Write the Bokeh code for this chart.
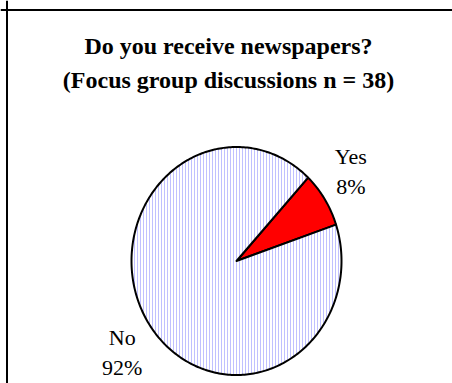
import math
from bokeh.plotting import figure
from bokeh.models import Range1d, Span
from bokeh.core.properties import value
from bokeh.embed import file_html
from bokeh.resources import INLINE

# ---- data ----
categories = ["Yes", "No"]
counts = [3, 35]
pct_labels = ["8%", "92%"]
title_lines = ["Do you receive newspapers?", "(Focus group discussions n = 38)"]
slice_colors = ["#ff0000", "#ffffff"]
slice_hatch = [None, "vertical_line"]

# ---- layout (pixels) ----
W, H = 452, 383
CX, CY = 236, 260.5          # pie centre in canvas px (from top-left)
SX, SY = 105.0, 114.0        # px per unit radius (x, y) -> slightly tall ellipse
START_DEG = 18.6

x0, x1 = -CX / SX, (W - CX) / SX
y1, y0 = CY / SY, -(H - CY) / SY

def dx(px):
    return x0 + px / SX

def dy(py):
    return y1 - py / SY

p = figure(width=W, height=H, output_backend="svg", toolbar_location=None,
           x_range=Range1d(x0, x1), y_range=Range1d(y0, y1),
           min_border=0, outline_line_color=None,
           background_fill_color="white", border_fill_color="white")
p.axis.visible = False
p.grid.visible = False

total = float(sum(counts))
ang = math.radians(START_DEG)
label_data = []
for cat, cnt, pct, col, hp in zip(categories, counts, pct_labels, slice_colors, slice_hatch):
    span = 2 * math.pi * cnt / total
    n = max(4, int(cnt / total * 360))
    xs = [0.0] + [math.cos(ang + span * i / n) for i in range(n + 1)] + [0.0]
    ys = [0.0] + [math.sin(ang + span * i / n) for i in range(n + 1)] + [0.0]
    kw = dict(fill_color=col, line_color="black", line_width=2, line_join="round")
    if hp:
        kw.update(hatch_pattern=hp, hatch_color="#c0c0ff", hatch_scale=3, hatch_weight=1)
    p.patch(xs, ys, **kw)
    mid = ang + span / 2
    label_data.append((cat, pct, mid))
    ang += span

# labels outside the pie, anchored Excel-style
R_LAB = 1.08
BLOCK_W, BLOCK_H = 38, 48
for cat, pct, mid in label_data:
    ax, ay = R_LAB * math.cos(mid), R_LAB * math.sin(mid)
    sx = 1 if math.cos(mid) >= 0 else -1
    sy = 1 if math.sin(mid) >= 0 else -1
    xo = sx * BLOCK_W / 2
    cyo = -sy * BLOCK_H / 2
    for txt, off in ((cat, -14), (pct, 16)):
        p.text(x=[ax], y=[ay], text=[txt], x_offset=xo, y_offset=cyo + off,
               text_align="center", text_baseline="middle",
               text_font=value("Liberation Serif"), text_font_size="22px",
               text_color="black")

# title
for line, py in zip(title_lines, (45, 79)):
    p.text(x=[dx(228)], y=[dy(py)], text=[line], text_align="center",
           text_baseline="middle", text_font=value("Liberation Serif"),
           text_font_style="bold", text_font_size="24px", text_color="black")

# chart-area frame (left and top edges visible)
p.add_layout(Span(location=dx(6.5), dimension="height", line_color="black", line_width=2))
p.add_layout(Span(location=dy(9.5), dimension="width", line_color="black", line_width=2))

open("out.html", "w").write(file_html(p, INLINE))
